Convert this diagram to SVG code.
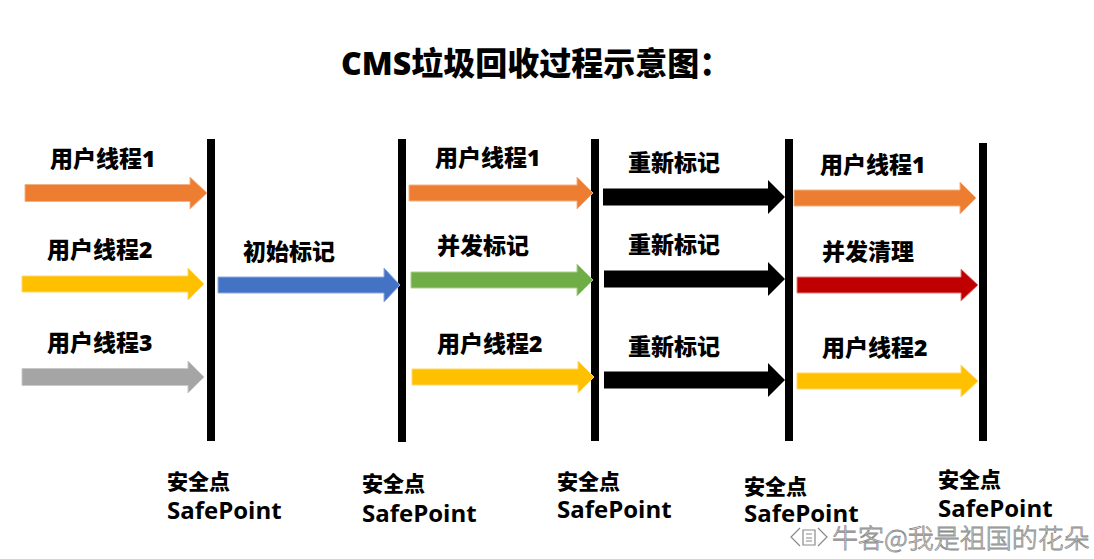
<svg xmlns="http://www.w3.org/2000/svg" width="1094" height="559" viewBox="0 0 1094 559">
<style>
.t{font-family:"Open Sans","Noto Sans CJK SC",sans-serif;font-weight:bold;fill:#000}
.h{font-weight:900}
.lbl{font-size:23px}
.sp1{font-size:21px}
.sp2{font-size:24px}
.bar{fill:#000}
.a{stroke-width:1}
.wm{font-family:"Noto Sans CJK SC",sans-serif;font-size:26px;font-weight:300;fill:#fff;stroke:#8a8a8a;stroke-width:0.8}
</style>
<rect width="1094" height="559" fill="#fff"/>
<text class="t h" x="341" y="75" font-size="32">CMS垃圾回收过程示意图：</text>

<g id="safepoints">
<g id="sp1"><rect class="bar" x="207" y="139" width="8" height="302"/><text class="t h sp1" x="167" y="489">安全点</text><text class="t sp2" x="167" y="519">SafePoint</text></g>
<g id="sp2"><rect class="bar" x="398" y="139" width="8" height="303"/><text class="t h sp1" x="362" y="491">安全点</text><text class="t sp2" x="362" y="522">SafePoint</text></g>
<g id="sp3"><rect class="bar" x="591" y="139" width="8" height="302"/><text class="t h sp1" x="557" y="489">安全点</text><text class="t sp2" x="557" y="518">SafePoint</text></g>
<g id="sp4"><rect class="bar" x="785" y="139" width="8" height="302"/><text class="t h sp1" x="744" y="494">安全点</text><text class="t sp2" x="744" y="522">SafePoint</text></g>
<g id="sp5"><rect class="bar" x="979" y="143" width="8" height="298"/><text class="t h sp1" x="938" y="487">安全点</text><text class="t sp2" x="938" y="517">SafePoint</text></g>
</g>

<g id="connectors">
<polygon class="a" fill="#ED7D31" stroke="#F4B183" points="25,184.5 190,184.5 190,177 207,193 190,209 190,201.5 25,201.5"/>
<polygon class="a" fill="#FFC000" stroke="#FFD966" points="22,276 188,276 188,268 204,284 188,300 188,292 22,292"/>
<polygon class="a" fill="#A5A5A5" stroke="#C9C9C9" points="22,368.5 188,368.5 188,361 204,377 188,393 188,385.5 22,385.5"/>
<polygon class="a" fill="#4472C4" stroke="#8FAADC" points="218,277 384,277 384,268 400,285 384,302 384,293 218,293"/>

<polygon class="a" fill="#ED7D31" stroke="#F4B183" points="409,185 577,185 577,177 593,193 577,209 577,201 409,201"/>
<polygon class="a" fill="#70AD47" stroke="#A9D18E" points="411,272 577,272 577,264 593,280 577,296 577,288 411,288"/>
<polygon class="a" fill="#FFC000" stroke="#FFD966" points="412,369 578,369 578,361 594,377 578,393 578,385 412,385"/>

<polygon fill="#000" points="603,188.5 768,188.5 768,180 785,197 768,214 768,205.5 603,205.5"/>
<polygon fill="#000" points="604,270.5 768,270.5 768,262 785,279 768,296 768,287.5 604,287.5"/>
<polygon fill="#000" points="604,371.5 768,371.5 768,363 785,380 768,397 768,388.5 604,388.5"/>

<polygon class="a" fill="#ED7D31" stroke="#F4B183" points="794,190 960,190 960,182 976,198 960,214 960,206 794,206"/>
<polygon class="a" fill="#C00000" stroke="#E08080" points="797,277 961,277 961,269 978,285 961,301 961,293 797,293"/>
<polygon class="a" fill="#FFC000" stroke="#FFD966" points="797,373 961,373 961,365 978,381 961,397 961,389 797,389"/>
</g>

<g id="labels">
<text class="t h lbl" x="50" y="167">用户线程1</text>
<text class="t h lbl" x="47" y="258">用户线程2</text>
<text class="t h lbl" x="47" y="351">用户线程3</text>
<text class="t h lbl" x="243" y="260">初始标记</text>
<text class="t h lbl" x="435" y="166">用户线程1</text>
<text class="t h lbl" x="437" y="254">并发标记</text>
<text class="t h lbl" x="437" y="352">用户线程2</text>
<text class="t h lbl" x="628" y="171">重新标记</text>
<text class="t h lbl" x="628" y="253">重新标记</text>
<text class="t h lbl" x="628" y="355">重新标记</text>
<text class="t h lbl" x="820" y="173">用户线程1</text>
<text class="t h lbl" x="822" y="260">并发清理</text>
<text class="t h lbl" x="822" y="356">用户线程2</text>
</g>

<g id="watermark">
<path d="M800,528 L791,537 L800,546 M818,528 L827,537 L818,546 M803,530 L815,530 L815,545 L803,545 Z M806,534 L812,534 M806,538 L812,538 M806,541 L812,541" fill="none" stroke="#8a8a8a" stroke-width="1.2"/>
<text class="wm" x="832" y="548">牛客@我是祖国的花朵</text>
</g>
</svg>
